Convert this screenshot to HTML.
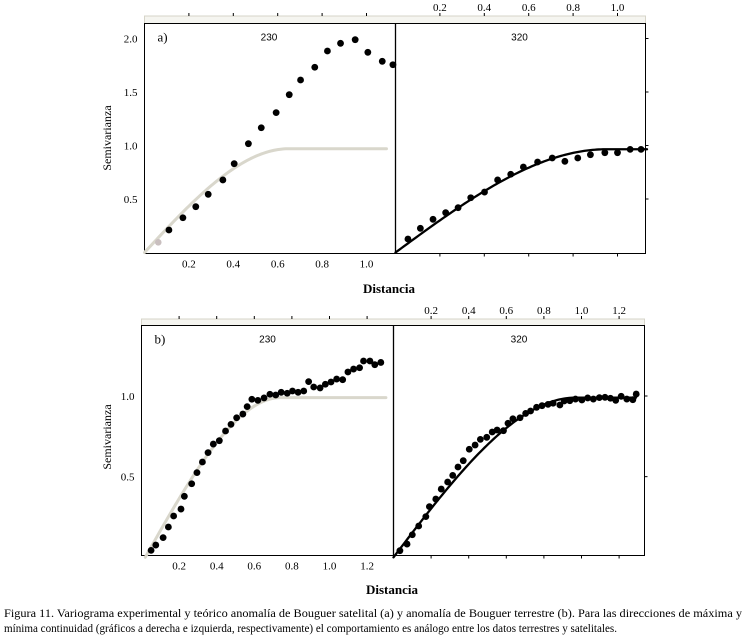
<!DOCTYPE html>
<html><head><meta charset="utf-8">
<style>
body{margin:0;background:#fff;}
svg{display:block;font-family:"Liberation Serif",serif;}
</style></head>
<body>
<svg id="fig" width="744" height="640" viewBox="0 0 744 640">
<text x="4" y="617" font-size="12" textLength="738" lengthAdjust="spacingAndGlyphs">Figura 11. Variograma experimental y teórico anomalía de Bouguer satelital (a) y anomalía de Bouguer terrestre (b). Para las direcciones de máxima y</text>
<text x="4" y="632" font-size="12" textLength="613" lengthAdjust="spacingAndGlyphs">mínima continuidad (gráficos a derecha e izquierda, respectivamente) el comportamiento es análogo entre los datos terrestres y satelitales.</text>
</svg>
<script>
// Panel a, direction 230 (left)
const a230X=[0.110,0.173,0.231,0.287,0.353,0.404,0.468,0.526,0.593,0.652,0.703,0.767,0.824,0.883,0.949,1.006,1.071,1.119];
const a230Y=[0.21,0.325,0.428,0.544,0.678,0.83,1.017,1.166,1.307,1.475,1.612,1.731,1.883,1.955,1.989,1.871,1.787,1.755];
const a230Faint=[[0.062,0.095]];
// Panel a, direction 320 (right)
const a320X=[0.056,0.112,0.169,0.226,0.282,0.339,0.401,0.46,0.519,0.576,0.64,0.706,0.763,0.821,0.878,0.943,1.0,1.057,1.106];
const a320Y=[0.126,0.226,0.31,0.372,0.419,0.512,0.565,0.678,0.731,0.799,0.846,0.883,0.852,0.883,0.914,0.933,0.933,0.964,0.964];
// Panel b, direction 230 (left)
const b230X=[0.051,0.076,0.115,0.143,0.171,0.21,0.228,0.267,0.295,0.324,0.354,0.382,0.414,0.447,0.476,0.506,0.539,0.562,0.587,0.619,0.652,0.683,0.714,0.743,0.775,0.803,0.833,0.863,0.889,0.916,0.95,0.978,1.008,1.038,1.07,1.098,1.128,1.16,1.181,1.215,1.241,1.273];
const b230Y=[0.043,0.076,0.122,0.188,0.256,0.299,0.378,0.456,0.525,0.591,0.649,0.702,0.723,0.783,0.824,0.865,0.888,0.934,0.98,0.973,0.988,1.011,1.006,1.023,1.017,1.031,1.023,1.031,1.089,1.056,1.05,1.073,1.087,1.105,1.101,1.149,1.167,1.175,1.217,1.217,1.194,1.208];
// Panel b, direction 320 (right)
const b320X=[0.034,0.072,0.1,0.134,0.172,0.191,0.225,0.254,0.288,0.315,0.343,0.371,0.403,0.434,0.462,0.496,0.525,0.551,0.585,0.609,0.635,0.673,0.703,0.729,0.761,0.79,0.822,0.849,0.885,0.908,0.938,0.968,1.002,1.033,1.063,1.095,1.125,1.154,1.182,1.211,1.241,1.273,1.291];
const b320Y=[0.041,0.082,0.14,0.194,0.252,0.314,0.361,0.423,0.467,0.508,0.56,0.599,0.67,0.696,0.731,0.744,0.777,0.789,0.785,0.831,0.859,0.865,0.892,0.907,0.93,0.94,0.948,0.955,0.944,0.969,0.971,0.981,0.975,0.988,0.981,0.99,0.992,0.986,0.973,0.998,0.981,0.977,1.012];
// model parameters [nugget-start x, sill, range, end x]
const a230Model=[0,0.97,0.65,1.09];
const a320Model=[0,0.965,0.95,1.133];
const b230Model=[0.02,0.99,0.72,1.3];
const b320Model=[0,0.99,0.97,1.29];
const aXTicks=[0.2,0.4,0.6,0.8,1.0];
const aYTicks=[0.5,1.0,1.5,2.0];
const bXTicks=[0.2,0.4,0.6,0.8,1.0,1.2];
const bYTicks=[0.5,1.0];

const NS='http://www.w3.org/2000/svg';
const svg=document.getElementById('fig');
function el(tag,attrs,parent,txt){const e=document.createElementNS(NS,tag);for(const k in attrs)e.setAttribute(k,attrs[k]);if(txt!==undefined)e.textContent=txt;(parent||svg).appendChild(e);return e;}
function sph(h,m){const d=h-m[0];if(d<=0)return 0;if(d>=m[2])return m[1];const r=d/m[2];return m[1]*(1.5*r-0.5*r*r*r);}

function panel(cfg){
  const g=el('g',{});
  
  
  const L=cfg.left,M=cfg.mid,R=cfg.right,T=cfg.top,B=cfg.bottom;
  const xl=v=>L+(v-cfg.x0)*cfg.kx, xr=v=>M+(v-cfg.x0)*cfg.kx;
  const y=v=>cfg.y0px-v*cfg.ky;
  // strip
  const st=el('rect',{x:L,y:cfg.stripTop,width:R-L,height:T-cfg.stripTop,fill:'#f5f5f0',stroke:'#d6d4c8','stroke-width':1},g);
  
  
  // frame
  const fr=el('rect',{x:L,y:T,width:R-L,height:B-T,fill:'none',stroke:'#000','stroke-width':1},g);
  
  
  const dv=el('line',{x1:M,y1:T,x2:M,y2:B,stroke:'#000','stroke-width':1.3},g);
  
  
  // x ticks
  cfg.xticks.forEach(t=>{
    const a=xl(t), b=xr(t);
    el('line',{x1:a,y1:cfg.stripTop,x2:a,y2:cfg.stripTop-3,stroke:'#000'},g);
    el('line',{x1:b,y1:cfg.stripTop,x2:b,y2:cfg.stripTop-3,stroke:'#000'},g);
    el('line',{x1:b,y1:B,x2:b,y2:B+3,stroke:'#000'},g);
    const tl=el('text',{x:a,y:B+14,'font-size':11,'text-anchor':'middle'},g,t.toFixed(1));
    
    
    const tr=el('text',{x:b,y:cfg.stripTop-5,'font-size':11,'text-anchor':'middle'},g,t.toFixed(1));
    
    
  });
  cfg.yticks.forEach(t=>{
    const yy=y(t);
    el('line',{x1:R,y1:yy,x2:R+3,y2:yy,stroke:'#000'},g);
    const yl=el('text',{x:L-7,y:yy+4,'font-size':11,'text-anchor':'end'},g,t.toFixed(1));
    
    
  });
  // labels
  const lb=el('text',{x:L+13,y:T+18,'font-size':13},g,cfg.label);
  
  
  const d1=el('text',{x:(L+M)/2+(cfg.dirOff||0),y:T+17,'font-size':10,'font-family':'Liberation Sans, sans-serif','text-anchor':'middle'},g,'230');
  
  
  const d2=el('text',{x:(M+R)/2+(cfg.dirOff||0),y:T+17,'font-size':10,'font-family':'Liberation Sans, sans-serif','text-anchor':'middle'},g,'320');
  
  
  const ya=el('text',{x:0,y:0,'font-size':12,'text-anchor':'middle',transform:`translate(${cfg.ytx},${cfg.yty}) rotate(-90)`},g,'Semivarianza');
  
  
  const xa=el('text',{x:cfg.xtx,y:cfg.xty,'font-size':13,'font-weight':'bold','text-anchor':'middle'},g,'Distancia');
  
  
  // model lines
  function model(m,xf,color,w,name){
    let d='';
    for(let i=0;i<=120;i++){const h=m[0]+(m[3]-m[0])*i/120;d+=(i?'L':'M')+xf(h).toFixed(2)+','+y(sph(h,m)+cfg.ybase).toFixed(2);}
    const p=el('path',{d:d,fill:'none',stroke:color,'stroke-width':w,'stroke-linecap':'round'},g);
    
    
  }
  model(cfg.lm,xl,'#d9d7cc',3,'model-curve-230');
  model(cfg.rm,xr,'#000',2.3,'model-curve-320');
  (cfg.faint||[]).forEach(p=>{
    const c=el('circle',{cx:xl(p[0]),cy:y(p[1]),r:3.3,fill:'#c9bfbf'},g);
    
    
  });
  cfg.lx.forEach((v,i)=>{
    const c=el('circle',{cx:xl(v),cy:y(cfg.ly[i]),r:3.4,fill:'#000'},g);
    
    
  });
  cfg.rx.forEach((v,i)=>{
    const c=el('circle',{cx:xr(v),cy:y(cfg.ry[i]),r:3.4,fill:'#000'},g);
    
    
  });
}

panel({name:'panel-a',label:'a)',left:144.5,mid:395.5,right:645.5,top:23.5,bottom:253.5,stripTop:16,
  x0:0,kx:222,y0px:252.5,ky:107,ybase:0,xticks:aXTicks,yticks:aYTicks,
  lx:a230X,ly:a230Y,rx:a320X,ry:a320Y,faint:a230Faint,lm:a230Model,rm:a320Model,
  ytx:111,yty:138,xtx:389,xty:293,dirOff:-1});
panel({name:'panel-b',label:'b)',left:141.5,mid:393.5,right:644.5,top:325.5,bottom:555.5,stripTop:319,
  x0:0,kx:188,y0px:557.3,ky:161.3,ybase:0,xticks:bXTicks,yticks:bYTicks,
  lx:b230X,ly:b230Y,rx:b320X,ry:b320Y,lm:b230Model,rm:b320Model,
  ytx:111,yty:437,xtx:392,xty:594,dirOff:0});
</script>
</body></html>
